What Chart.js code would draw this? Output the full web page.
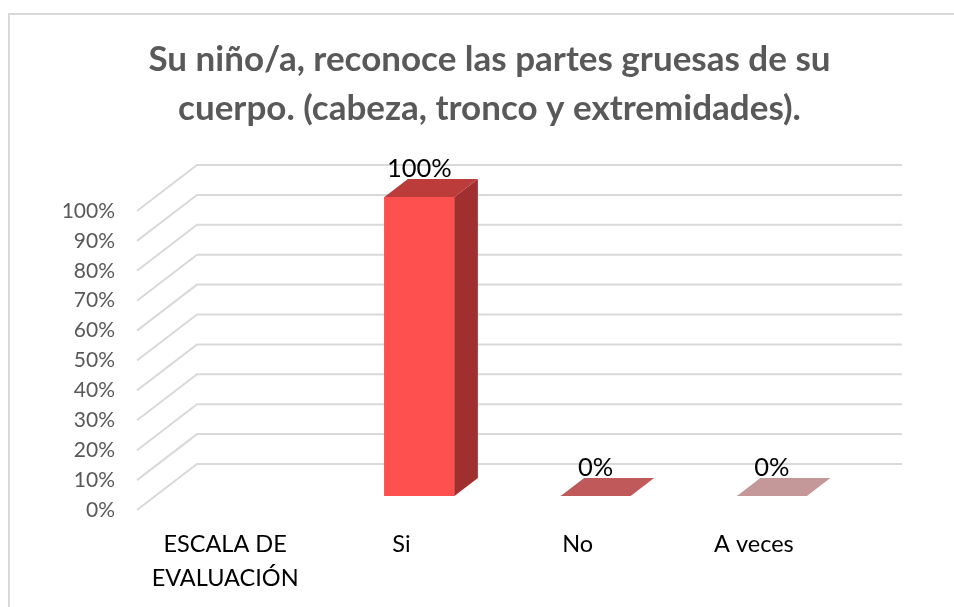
<!DOCTYPE html>
<html>
<head>
<meta charset="utf-8">
<script src="https://cdn.jsdelivr.net/npm/chart.js@4"></script>
<style>
html,body{margin:0;padding:0;background:#fff;overflow:hidden}
#frame{position:absolute;left:8px;top:13px;right:0;bottom:0;border-left:2px solid #d9d9d9;border-top:2px solid #d9d9d9}
canvas{position:absolute;left:0;top:0}
</style>
</head>
<body>
<div id="frame"></div>
<canvas id="c" width="954" height="607"></canvas>
<script>
const titleLines = ["Su niño/a, reconoce las partes gruesas de su", "cuerpo. (cabeza, tronco y extremidades)."];
const categories = [["ESCALA DE", "EVALUACIÓN"], "Si", "No", "A veces"];
const values = [null, 100, 0, 0];
const frontColors = ["#ff5050", "#ff5050", "#c05a5a", "#c49898"];
const sideColors = ["#a03030", "#a03030", "#a03030", "#a03030"];
const topColors = ["#bc3c3c", "#bc3c3c", "#c05a5a", "#c49898"];

const FONT = "Lato, 'Open Sans', sans-serif";
const wallDX = 60, wallDY = -46, wallRight = 902;
const barShiftX = 18, barShiftY = -14;
const depthX = 23.5, depthY = -18;
const gridColor = "#d9d9d9";

const walls = {
  id: "walls",
  beforeDatasetsDraw(chart) {
    const { ctx, scales: { x, y } } = chart;
    ctx.save();
    ctx.strokeStyle = gridColor;
    ctx.lineWidth = 2;
    y.ticks.forEach(t => {
      const py = y.getPixelForValue(t.value);
      ctx.beginPath();
      ctx.moveTo(x.left, py);
      ctx.lineTo(x.left + wallDX, py + wallDY);
      ctx.lineTo(wallRight, py + wallDY);
      ctx.stroke();
    });
    ctx.restore();
  },
  beforeDatasetDraw(chart) {
    chart.ctx.save();
    chart.ctx.translate(barShiftX, barShiftY);
  },
  afterDatasetDraw(chart, args) {
    const ctx = chart.ctx;
    const meta = args.meta;
    meta.data.forEach((bar, i) => {
      if (values[i] === null) return;
      const p = bar.getProps(["x", "y", "base", "width"], true);
      const l = p.x - p.width / 2, r = p.x + p.width / 2;
      if (p.base - p.y > 0.5) {
        ctx.fillStyle = sideColors[i];
        ctx.beginPath();
        ctx.moveTo(r, p.y);
        ctx.lineTo(r + depthX, p.y + depthY);
        ctx.lineTo(r + depthX, p.base + depthY);
        ctx.lineTo(r, p.base);
        ctx.closePath();
        ctx.fill();
      }
      ctx.fillStyle = topColors[i];
      ctx.beginPath();
      ctx.moveTo(l, p.y);
      ctx.lineTo(l + depthX, p.y + depthY);
      ctx.lineTo(r + depthX, p.y + depthY);
      ctx.lineTo(r, p.y);
      ctx.closePath();
      ctx.fill();
      ctx.fillStyle = "#000";
      ctx.font = "25.5px " + FONT;
      ctx.textAlign = "center";
      ctx.textBaseline = "middle";
      ctx.fillText(values[i] + "%", p.x, p.y - 28);
    });
    ctx.restore();
  }
};

new Chart(document.getElementById("c"), {
  type: "bar",
  plugins: [walls],
  data: {
    labels: categories,
    datasets: [{
      data: values,
      backgroundColor: frontColors,
      borderWidth: 0,
      barThickness: 70
    }]
  },
  options: {
    responsive: false,
    animation: false,
    layout: { padding: { left: 0, right: 112, top: 0, bottom: 0 } },
    plugins: {
      legend: { display: false },
      tooltip: { enabled: false },
      title: {
        display: true,
        fullSize: false,
        text: titleLines,
        color: "#595959",
        font: { family: FONT, size: 35, weight: "bold", lineHeight: 49 / 35 },
        padding: { top: 35, bottom: 78 }
      }
    },
    scales: {
      x: {
        afterFit(s) { s.height = 97; },
        grid: { display: false, drawTicks: false },
        border: { display: false },
        ticks: {
          color: "#000",
          maxRotation: 0,
          autoSkip: false,
          padding: 17,
          font: { family: FONT, size: 23.5, lineHeight: 34 / 23.5 }
        }
      },
      y: {
        min: 0,
        max: 100,
        afterFit(s) { s.width = 137; },
        grid: { display: false, drawTicks: false },
        border: { display: false },
        ticks: {
          stepSize: 10,
          color: "#595959",
          padding: 22,
          font: { family: FONT, size: 21 },
          callback: v => v + "%"
        }
      }
    }
  }
});
</script>
</body>
</html>
